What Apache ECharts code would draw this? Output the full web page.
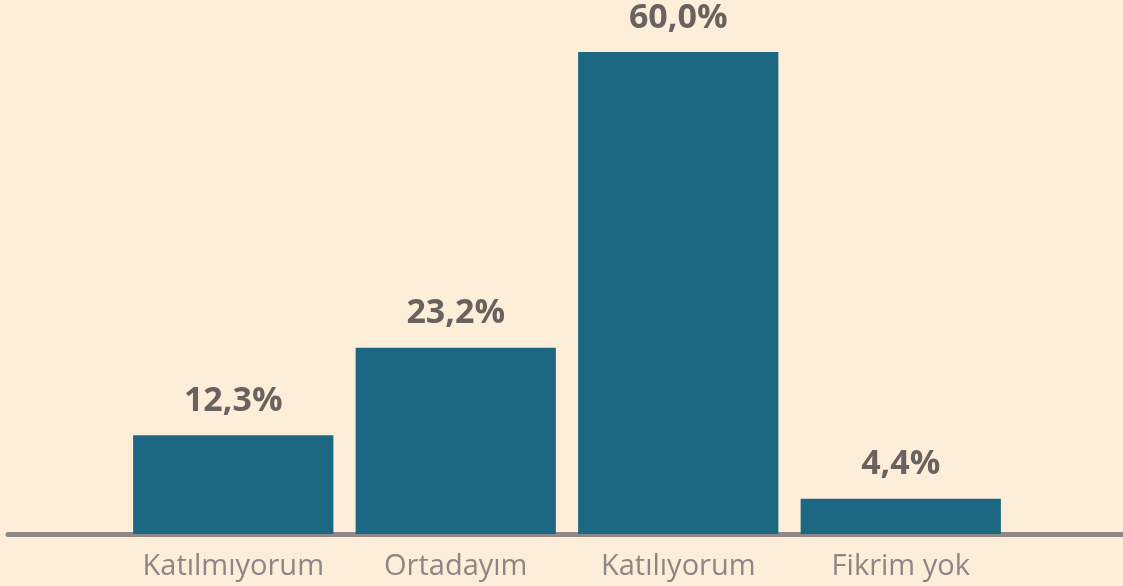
<!DOCTYPE html>
<html>
<head>
<meta charset="utf-8">
<script src="https://cdn.jsdelivr.net/npm/echarts@6/dist/echarts.min.js"></script>
<style>
  html, body { margin: 0; padding: 0; background: #FDEEDA; }
  #main { width: 1123px; height: 586px; }
</style>
</head>
<body>
<div id="main"></div>
<script>
// kategoriler ve yüzdeler
const categories = ['Katılmıyorum', 'Ortadayım', 'Katılıyorum', 'Fikrim yok'];
const values = [12.3, 23.2, 60.0, 4.4];

const chart = echarts.init(document.getElementById('main'));
const option = {
  backgroundColor: '#FDEEDA',
  animation: false,
  grid: [
    { left: 122, right: 111, top: 52, bottom: 52 },
    { left: 8, right: -10, top: 52, bottom: 52 } // sadece uzun eksen çizgisi
  ],
  xAxis: [{
    type: 'category',
    data: categories,
    gridIndex: 0,
    axisLine: { show: false },
    axisTick: { show: false },
    axisLabel: {
      interval: 0,
      color: '#8E8682',
      fontFamily: 'Open Sans',
      fontSize: 29,
      margin: 18
    }
  }, {
    type: 'category',
    data: [''],
    gridIndex: 1,
    axisLine: { show: true, lineStyle: { color: '#8F8884', width: 5, cap: 'round' } },
    axisTick: { show: false },
    axisLabel: { show: false }
  }],
  yAxis: [{
    type: 'value', gridIndex: 0, min: 0, max: 60,
    show: false
  }, {
    type: 'value', gridIndex: 1, min: 0, max: 60,
    show: false
  }],
  series: [{
    type: 'bar',
    data: values,
    xAxisIndex: 0,
    yAxisIndex: 0,
    barWidth: '90%',
    itemStyle: { color: '#1C6782' },
    z: 5,
    label: {
      show: true,
      position: 'top',
      distance: 17,
      color: '#6A625E',
      fontFamily: 'Open Sans',
      fontWeight: 'bold',
      fontSize: 34,
      formatter: p => p.value.toFixed(1).replace('.', ',') + '%'
    }
  }]
};
chart.setOption(option);
</script>
</body>
</html>
